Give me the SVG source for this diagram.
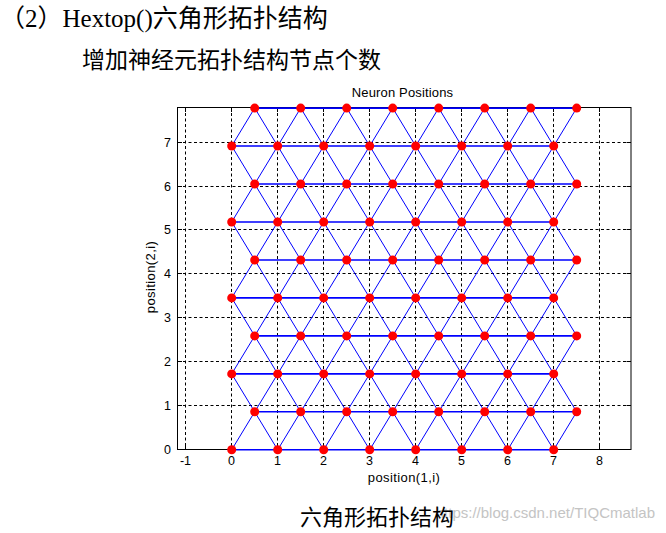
<svg xmlns="http://www.w3.org/2000/svg" width="666" height="533" viewBox="0 0 666 533">
<style>
.bg{fill:#fff}
.grid{stroke:#000;stroke-width:1;stroke-dasharray:3 2.5;fill:none}
.axis{stroke:#000;stroke-width:1;fill:none}
.link{stroke:#0000ff;stroke-width:1;fill:none}
.hlink{stroke:#0000ff;stroke-width:1.6;fill:none}
.node circle{fill:#ff0000}
.tk{font-family:'Liberation Sans',Arial,sans-serif;font-size:12.5px;fill:#000}
.lbl{font-family:'Liberation Sans',Arial,sans-serif;font-size:13px;fill:#000}
.cn{font-family:'Liberation Serif','Noto Sans CJK SC',serif;fill:#000}
.wm{font-family:'Liberation Sans',Arial,sans-serif;font-size:15px;fill:#c4c4c4}
</style>
<rect class="bg" width="666" height="533"/>
<g id="heading">
<text class="cn" font-size="25" x="0" y="27">（2）Hextop()六角形拓扑结构</text>
<text class="cn" font-size="23" x="82" y="68">增加神经元拓扑结构节点个数</text>
</g>
<g id="axes">
<g class="grid">
<path d="M185.5 107.5V449.5M231.5 107.5V449.5M277.5 107.5V449.5M323.5 107.5V449.5M369.5 107.5V449.5M415.5 107.5V449.5M461.5 107.5V449.5M507.5 107.5V449.5M553.5 107.5V449.5M599.5 107.5V449.5"/>
<path d="M177.5 405.5H631M177.5 361.5H631M177.5 317.5H631M177.5 273.5H631M177.5 229.5H631M177.5 186.5H631M177.5 142.5H631"/>
</g>
<rect class="axis" x="177.5" y="107.5" width="453.5" height="342"/>
<path class="axis" d="M185.5 449.5v-4.5M231.5 449.5v-4.5M277.5 449.5v-4.5M323.5 449.5v-4.5M369.5 449.5v-4.5M415.5 449.5v-4.5M461.5 449.5v-4.5M507.5 449.5v-4.5M553.5 449.5v-4.5M599.5 449.5v-4.5M185.5 107.5v4.5M231.5 107.5v4.5M277.5 107.5v4.5M323.5 107.5v4.5M369.5 107.5v4.5M415.5 107.5v4.5M461.5 107.5v4.5M507.5 107.5v4.5M553.5 107.5v4.5M599.5 107.5v4.5M177.5 405.5h4.5M177.5 361.5h4.5M177.5 317.5h4.5M177.5 273.5h4.5M177.5 229.5h4.5M177.5 186.5h4.5M177.5 142.5h4.5M631 405.5h-4.5M631 361.5h-4.5M631 317.5h-4.5M631 273.5h-4.5M631 229.5h-4.5M631 186.5h-4.5M631 142.5h-4.5"/>
<g class="tk" text-anchor="middle">
<text x="185.5" y="465">-1</text><text x="231.5" y="465">0</text><text x="277.5" y="465">1</text><text x="323.5" y="465">2</text><text x="369.5" y="465">3</text><text x="415.5" y="465">4</text><text x="461.5" y="465">5</text><text x="507.5" y="465">6</text><text x="553.5" y="465">7</text><text x="599.5" y="465">8</text>
</g>
<g class="tk" text-anchor="end">
<text x="171" y="453.8">0</text><text x="171" y="409.8">1</text><text x="171" y="365.8">2</text><text x="171" y="321.8">3</text><text x="171" y="277.8">4</text><text x="171" y="233.8">5</text><text x="171" y="190.8">6</text><text x="171" y="146.8">7</text>
</g>
<text class="lbl" x="402.5" y="97" text-anchor="middle" letter-spacing="0.15">Neuron Positions</text>
<text class="lbl" x="404" y="482" text-anchor="middle" letter-spacing="0.4">position(1,i)</text>
<text class="lbl" transform="translate(155 277) rotate(-90)" text-anchor="middle" letter-spacing="0.4">position(2,i)</text>
</g>
<g id="connectors">
<path class="hlink" d="M231.7 449.8H553.7M254.7 411.8H576.7M231.7 373.9H553.7M254.7 335.9H576.7M231.7 297.9H553.7M254.7 260H576.7M231.7 222H553.7M254.7 184H576.7M231.7 146H553.7M254.7 108.1H576.7"/>
<path class="link" d="M231.7 449.8l23-37.97 23 37.97 23-37.97 23 37.97 23-37.97 23 37.97 23-37.97 23 37.97 23-37.97 23 37.97 23-37.97 23 37.97 23-37.97 23 37.97 23-37.97"/>
<path class="link" d="M231.7 373.9l23 37.97 23-37.97 23 37.97 23-37.97 23 37.97 23-37.97 23 37.97 23-37.97 23 37.97 23-37.97 23 37.97 23-37.97 23 37.97 23-37.97 23 37.97"/>
<path class="link" d="M231.7 373.9l23-37.97 23 37.97 23-37.97 23 37.97 23-37.97 23 37.97 23-37.97 23 37.97 23-37.97 23 37.97 23-37.97 23 37.97 23-37.97 23 37.97 23-37.97"/>
<path class="link" d="M231.7 297.9l23 37.97 23-37.97 23 37.97 23-37.97 23 37.97 23-37.97 23 37.97 23-37.97 23 37.97 23-37.97 23 37.97 23-37.97 23 37.97 23-37.97 23 37.97"/>
<path class="link" d="M231.7 297.9l23-37.97 23 37.97 23-37.97 23 37.97 23-37.97 23 37.97 23-37.97 23 37.97 23-37.97 23 37.97 23-37.97 23 37.97 23-37.97 23 37.97 23-37.97"/>
<path class="link" d="M231.7 222l23 37.97 23-37.97 23 37.97 23-37.97 23 37.97 23-37.97 23 37.97 23-37.97 23 37.97 23-37.97 23 37.97 23-37.97 23 37.97 23-37.97 23 37.97"/>
<path class="link" d="M231.7 222l23-37.97 23 37.97 23-37.97 23 37.97 23-37.97 23 37.97 23-37.97 23 37.97 23-37.97 23 37.97 23-37.97 23 37.97 23-37.97 23 37.97 23-37.97"/>
<path class="link" d="M231.7 146l23 37.97 23-37.97 23 37.97 23-37.97 23 37.97 23-37.97 23 37.97 23-37.97 23 37.97 23-37.97 23 37.97 23-37.97 23 37.97 23-37.97 23 37.97"/>
<path class="link" d="M231.7 146l23-37.97 23 37.97 23-37.97 23 37.97 23-37.97 23 37.97 23-37.97 23 37.97 23-37.97 23 37.97 23-37.97 23 37.97 23-37.97 23 37.97 23-37.97"/>
</g>
<g id="neurons">
<g id="n0_0" class="node"><circle cx="231.7" cy="449.8" r="4.5"/></g><g id="n0_1" class="node"><circle cx="277.7" cy="449.8" r="4.5"/></g><g id="n0_2" class="node"><circle cx="323.7" cy="449.8" r="4.5"/></g><g id="n0_3" class="node"><circle cx="369.7" cy="449.8" r="4.5"/></g><g id="n0_4" class="node"><circle cx="415.7" cy="449.8" r="4.5"/></g><g id="n0_5" class="node"><circle cx="461.7" cy="449.8" r="4.5"/></g><g id="n0_6" class="node"><circle cx="507.7" cy="449.8" r="4.5"/></g><g id="n0_7" class="node"><circle cx="553.7" cy="449.8" r="4.5"/></g>
<g id="n1_0" class="node"><circle cx="254.7" cy="411.8" r="4.5"/></g><g id="n1_1" class="node"><circle cx="300.7" cy="411.8" r="4.5"/></g><g id="n1_2" class="node"><circle cx="346.7" cy="411.8" r="4.5"/></g><g id="n1_3" class="node"><circle cx="392.7" cy="411.8" r="4.5"/></g><g id="n1_4" class="node"><circle cx="438.7" cy="411.8" r="4.5"/></g><g id="n1_5" class="node"><circle cx="484.7" cy="411.8" r="4.5"/></g><g id="n1_6" class="node"><circle cx="530.7" cy="411.8" r="4.5"/></g><g id="n1_7" class="node"><circle cx="576.7" cy="411.8" r="4.5"/></g>
<g id="n2_0" class="node"><circle cx="231.7" cy="373.9" r="4.5"/></g><g id="n2_1" class="node"><circle cx="277.7" cy="373.9" r="4.5"/></g><g id="n2_2" class="node"><circle cx="323.7" cy="373.9" r="4.5"/></g><g id="n2_3" class="node"><circle cx="369.7" cy="373.9" r="4.5"/></g><g id="n2_4" class="node"><circle cx="415.7" cy="373.9" r="4.5"/></g><g id="n2_5" class="node"><circle cx="461.7" cy="373.9" r="4.5"/></g><g id="n2_6" class="node"><circle cx="507.7" cy="373.9" r="4.5"/></g><g id="n2_7" class="node"><circle cx="553.7" cy="373.9" r="4.5"/></g>
<g id="n3_0" class="node"><circle cx="254.7" cy="335.9" r="4.5"/></g><g id="n3_1" class="node"><circle cx="300.7" cy="335.9" r="4.5"/></g><g id="n3_2" class="node"><circle cx="346.7" cy="335.9" r="4.5"/></g><g id="n3_3" class="node"><circle cx="392.7" cy="335.9" r="4.5"/></g><g id="n3_4" class="node"><circle cx="438.7" cy="335.9" r="4.5"/></g><g id="n3_5" class="node"><circle cx="484.7" cy="335.9" r="4.5"/></g><g id="n3_6" class="node"><circle cx="530.7" cy="335.9" r="4.5"/></g><g id="n3_7" class="node"><circle cx="576.7" cy="335.9" r="4.5"/></g>
<g id="n4_0" class="node"><circle cx="231.7" cy="297.9" r="4.5"/></g><g id="n4_1" class="node"><circle cx="277.7" cy="297.9" r="4.5"/></g><g id="n4_2" class="node"><circle cx="323.7" cy="297.9" r="4.5"/></g><g id="n4_3" class="node"><circle cx="369.7" cy="297.9" r="4.5"/></g><g id="n4_4" class="node"><circle cx="415.7" cy="297.9" r="4.5"/></g><g id="n4_5" class="node"><circle cx="461.7" cy="297.9" r="4.5"/></g><g id="n4_6" class="node"><circle cx="507.7" cy="297.9" r="4.5"/></g><g id="n4_7" class="node"><circle cx="553.7" cy="297.9" r="4.5"/></g>
<g id="n5_0" class="node"><circle cx="254.7" cy="260" r="4.5"/></g><g id="n5_1" class="node"><circle cx="300.7" cy="260" r="4.5"/></g><g id="n5_2" class="node"><circle cx="346.7" cy="260" r="4.5"/></g><g id="n5_3" class="node"><circle cx="392.7" cy="260" r="4.5"/></g><g id="n5_4" class="node"><circle cx="438.7" cy="260" r="4.5"/></g><g id="n5_5" class="node"><circle cx="484.7" cy="260" r="4.5"/></g><g id="n5_6" class="node"><circle cx="530.7" cy="260" r="4.5"/></g><g id="n5_7" class="node"><circle cx="576.7" cy="260" r="4.5"/></g>
<g id="n6_0" class="node"><circle cx="231.7" cy="222" r="4.5"/></g><g id="n6_1" class="node"><circle cx="277.7" cy="222" r="4.5"/></g><g id="n6_2" class="node"><circle cx="323.7" cy="222" r="4.5"/></g><g id="n6_3" class="node"><circle cx="369.7" cy="222" r="4.5"/></g><g id="n6_4" class="node"><circle cx="415.7" cy="222" r="4.5"/></g><g id="n6_5" class="node"><circle cx="461.7" cy="222" r="4.5"/></g><g id="n6_6" class="node"><circle cx="507.7" cy="222" r="4.5"/></g><g id="n6_7" class="node"><circle cx="553.7" cy="222" r="4.5"/></g>
<g id="n7_0" class="node"><circle cx="254.7" cy="184" r="4.5"/></g><g id="n7_1" class="node"><circle cx="300.7" cy="184" r="4.5"/></g><g id="n7_2" class="node"><circle cx="346.7" cy="184" r="4.5"/></g><g id="n7_3" class="node"><circle cx="392.7" cy="184" r="4.5"/></g><g id="n7_4" class="node"><circle cx="438.7" cy="184" r="4.5"/></g><g id="n7_5" class="node"><circle cx="484.7" cy="184" r="4.5"/></g><g id="n7_6" class="node"><circle cx="530.7" cy="184" r="4.5"/></g><g id="n7_7" class="node"><circle cx="576.7" cy="184" r="4.5"/></g>
<g id="n8_0" class="node"><circle cx="231.7" cy="146" r="4.5"/></g><g id="n8_1" class="node"><circle cx="277.7" cy="146" r="4.5"/></g><g id="n8_2" class="node"><circle cx="323.7" cy="146" r="4.5"/></g><g id="n8_3" class="node"><circle cx="369.7" cy="146" r="4.5"/></g><g id="n8_4" class="node"><circle cx="415.7" cy="146" r="4.5"/></g><g id="n8_5" class="node"><circle cx="461.7" cy="146" r="4.5"/></g><g id="n8_6" class="node"><circle cx="507.7" cy="146" r="4.5"/></g><g id="n8_7" class="node"><circle cx="553.7" cy="146" r="4.5"/></g>
<g id="n9_0" class="node"><circle cx="254.7" cy="108.1" r="4.5"/></g><g id="n9_1" class="node"><circle cx="300.7" cy="108.1" r="4.5"/></g><g id="n9_2" class="node"><circle cx="346.7" cy="108.1" r="4.5"/></g><g id="n9_3" class="node"><circle cx="392.7" cy="108.1" r="4.5"/></g><g id="n9_4" class="node"><circle cx="438.7" cy="108.1" r="4.5"/></g><g id="n9_5" class="node"><circle cx="484.7" cy="108.1" r="4.5"/></g><g id="n9_6" class="node"><circle cx="530.7" cy="108.1" r="4.5"/></g><g id="n9_7" class="node"><circle cx="576.7" cy="108.1" r="4.5"/></g>
</g>
<g id="caption">
<text class="wm" x="655" y="518" text-anchor="end">https://blog.csdn.net/TIQCmatlab</text>
<text class="cn" font-size="22" x="300" y="525">六角形拓扑结构</text>
</g>
</svg>
